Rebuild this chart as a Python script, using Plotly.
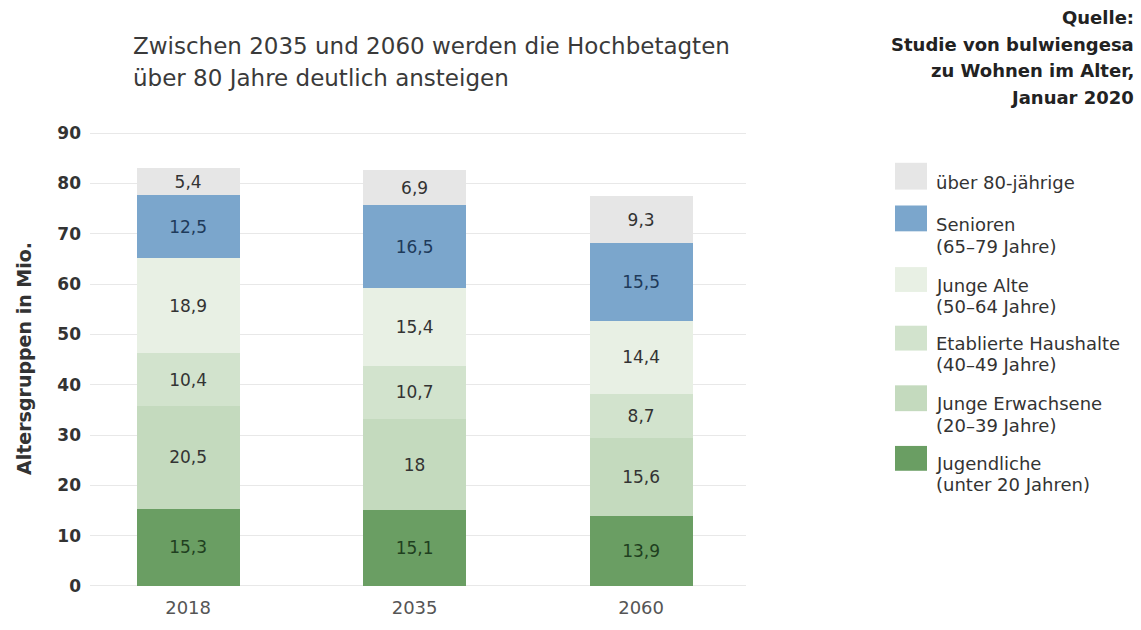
import plotly.graph_objects as go

# ---------------- data ----------------
years = ["2018", "2035", "2060"]
jugendliche = [15.3, 15.1, 13.9]
junge_erwachsene = [20.5, 18.0, 15.6]
etablierte = [10.4, 10.7, 8.7]
junge_alte = [18.9, 15.4, 14.4]
senioren = [12.5, 16.5, 15.5]
ueber80 = [5.4, 6.9, 9.3]

series_names = ["Jugendliche", "Junge Erwachsene", "Etablierte Haushalte",
                "Junge Alte", "Senioren", "über 80-jährige"]
series_values = [jugendliche, junge_erwachsene, etablierte, junge_alte, senioren, ueber80]
series_colors = ["#6a9e63", "#c4dabe", "#d2e3cd", "#e8f0e4", "#7ba6cc", "#e6e6e6"]
text_colors = ["#1f3f1f", "#333333", "#333333", "#333333", "#1e3a5a", "#333333"]

legend_labels = [
    ["über 80-jährige"],
    ["Senioren", "(65–79 Jahre)"],
    ["Junge Alte", "(50–64 Jahre)"],
    ["Etablierte Haushalte", "(40–49 Jahre)"],
    ["Junge Erwachsene", "(20–39 Jahre)"],
    ["Jugendliche", "(unter 20 Jahren)"],
]
legend_colors = ["#e6e6e6", "#7ba6cc", "#e8f0e4", "#d2e3cd", "#c4dabe", "#6a9e63"]

title_lines = ["Zwischen 2035 und 2060 werden die Hochbetagten",
               "über 80 Jahre deutlich ansteigen"]
source_lines = ["Quelle:", "Studie von bulwiengesa", "zu Wohnen im Alter,", "Januar 2020"]
y_ticks = [0, 10, 20, 30, 40, 50, 60, 70, 80, 90]


def de(v):
    return f"{round(v, 1):g}".replace(".", ",")


totals = [sum(vals) for vals in zip(*series_values)]

# ---------------- layout geometry (pixels) ----------------
W, H = 1141, 630
L, R, T, B = 90, 746, 128, 592
FONT = "DejaVu Sans"


def px(x):
    return (x - L) / (R - L)


def py(y):
    return (B - y) / (B - T)


fig = go.Figure()
for name, vals, col, tcol in zip(series_names, series_values, series_colors, text_colors):
    fig.add_trace(go.Bar(
        x=years, y=vals, name=name,
        marker=dict(color=col, line=dict(width=0)),
        width=0.455,
        text=[de(v) for v in vals],
        textposition="inside", insidetextanchor="middle",
        textfont=dict(family=FONT, size=17, color=tcol),
        showlegend=False,
    ))

annotations = []
# totals above bars
for yr, tot in zip(years, totals):
    annotations.append(dict(x=yr, xref="x", y=py(112), yref="paper",
                            text=de(tot), showarrow=False, xanchor="center", yanchor="middle",
                            font=dict(family=FONT, size=18, color="#555555")))
# title
for line, yc in zip(title_lines, [45, 78]):
    annotations.append(dict(x=px(131), xref="paper", y=py(yc), yref="paper",
                            text=line, showarrow=False, xanchor="left", yanchor="middle",
                            font=dict(family=FONT, size=23, color="#3a3a3a")))
# source
for line, yc in zip(source_lines, [17, 44, 70, 97]):
    annotations.append(dict(x=px(1136), xref="paper", y=py(yc), yref="paper",
                            text=f"<b>{line}</b>", showarrow=False, xanchor="right", yanchor="middle",
                            font=dict(family=FONT, size=18, color="#222222")))

# custom legend
shapes = []
sq_y = [(163, 190), (206, 232), (268, 293), (327, 352), (387, 413), (448, 473)]
txt_y = [[183], [225.5, 247], [286.5, 308], [345, 366.5], [405.5, 427], [465.5, 487]]
for lines, col, (y0, y1), ys in zip(legend_labels, legend_colors, sq_y, txt_y):
    shapes.append(dict(type="rect", xref="paper", yref="paper",
                       x0=px(895), x1=px(927), y0=py(y1), y1=py(y0),
                       fillcolor=col, line=dict(width=0)))
    for line, yc in zip(lines, ys):
        annotations.append(dict(x=px(934), xref="paper", y=py(yc), yref="paper",
                                text=line, showarrow=False, xanchor="left", yanchor="middle",
                                font=dict(family=FONT, size=18, color="#333333")))

fig.update_layout(
    width=W, height=H,
    margin=dict(l=L, r=W - R, t=T, b=H - B, pad=0),
    barmode="stack",
    plot_bgcolor="white", paper_bgcolor="white",
    font=dict(family=FONT, color="#333333"),
    uniformtext=dict(minsize=17, mode="show"),
    annotations=annotations,
    shapes=shapes,
    xaxis=dict(
        type="category", range=[-0.433, 2.463],
        showgrid=False, zeroline=False, showline=False, ticks="",
        tickfont=dict(family=FONT, size=18, color="#555555"),
        ticklabelstandoff=6,
    ),
    yaxis=dict(
        range=[-0.6, 91], tickvals=y_ticks, ticktext=[f"<b>{v}</b>" for v in y_ticks],
        showgrid=True, gridcolor="#e8e8e8", gridwidth=1,
        zeroline=False, showline=False, ticks="",
        tickfont=dict(family=FONT, size=17, color="#333333"),
        ticklabelstandoff=8,
        title=dict(text="<b>Altersgruppen in Mio.</b>",
                   font=dict(family=FONT, size=19, color="#333333"), standoff=20),
    ),
)

fig.write_html("out.html")
